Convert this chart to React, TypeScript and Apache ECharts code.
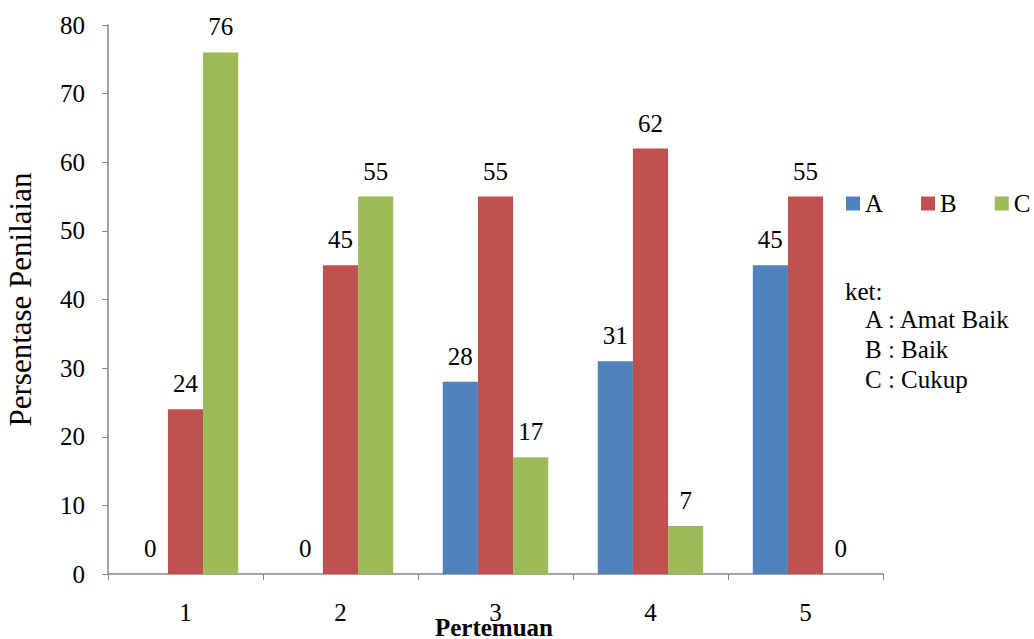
import React, { useEffect, useRef } from "react";
import * as echarts from "echarts";

const categories = ["1", "2", "3", "4", "5"];
const seriesA = [0, 0, 28, 31, 45];
const seriesB = [24, 45, 55, 62, 55];
const seriesC = [76, 55, 17, 7, 0];
const seriesNames = ["A", "B", "C"];
const colors = ["#4F81BD", "#C0504D", "#9BBB59"];
const xTitle = "Pertemuan";
const ketTitle = "ket:";
const ketLines = ["A : Amat Baik", "B : Baik", "C : Cukup"];

const FONT = "Times New Roman, Liberation Serif, serif";
const FS = 25;

export default function App() {
  const ref = useRef<HTMLDivElement>(null);
  useEffect(() => {
    if (!ref.current) return;
    const chart = echarts.init(ref.current, undefined, { renderer: "svg" });
    const values = [seriesA, seriesB, seriesC];
    chart.setOption({
      animation: false,
      textStyle: { fontFamily: FONT },
      grid: {
        left: 108,
        right: 151,
        top: 25,
        bottom: 65,
        containLabel: false,
        outerBoundsMode: "none",
      },
      legend: {
        data: seriesNames,
        left: 846,
        top: 191,
        width: 188,
        padding: 0,
        itemWidth: 14,
        itemHeight: 14,
        itemGap: 38,
        icon: "rect",
        textStyle: { fontFamily: FONT, fontSize: FS, color: "#000" },
      },
      graphic: [
        {
          type: "text",
          x: 494,
          y: 615,
          style: {
            text: xTitle,
            font: `bold 25px ${FONT}`,
            fill: "#000",
            textAlign: "center",
            textVerticalAlign: "top",
          },
        },
        {
          type: "text",
          left: 845,
          top: 279,
          style: { text: ketTitle, font: `${FS}px ${FONT}`, fill: "#000" },
        },
        ...ketLines.map((t, i) => ({
          type: "text",
          left: 865,
          top: 307 + i * 30,
          style: { text: t, font: `${FS}px ${FONT}`, fill: "#000" },
        })),
      ],
      xAxis: {
        type: "category",
        data: categories,
        axisLine: { lineStyle: { color: "#868686", width: 1.5 } },
        axisTick: { show: true, length: 6, alignWithLabel: false, lineStyle: { color: "#868686" } },
        axisLabel: { fontFamily: FONT, fontSize: FS, color: "#000", margin: 26 },
      },
      yAxis: {
        type: "value",
        min: 0,
        max: 80,
        interval: 10,
        name: "Persentase Penilaian",
        nameLocation: "middle",
        nameGap: 72,
        nameTextStyle: { fontFamily: FONT, fontSize: 31, color: "#000" },
        axisLine: { show: true, lineStyle: { color: "#868686", width: 1.5 } },
        axisTick: { show: true, length: 6, lineStyle: { color: "#868686" } },
        splitLine: { show: false },
        axisLabel: { fontFamily: FONT, fontSize: FS, color: "#000", margin: 23 },
      },
      series: seriesNames.map((n, i) => ({
        name: n,
        type: "bar",
        data: values[i],
        barGap: "0%",
        barCategoryGap: "32%",
        itemStyle: { color: colors[i] },
        label: {
          show: true,
          position: "top",
          distance: 13,
          fontFamily: FONT,
          fontSize: FS,
          color: "#000",
        },
      })),
    });
    return () => chart.dispose();
  }, []);
  return (
    <div
      ref={ref}
      style={{ position: "absolute", left: 0, top: 0, width: 1034, height: 639 }}
    />
  );
}
